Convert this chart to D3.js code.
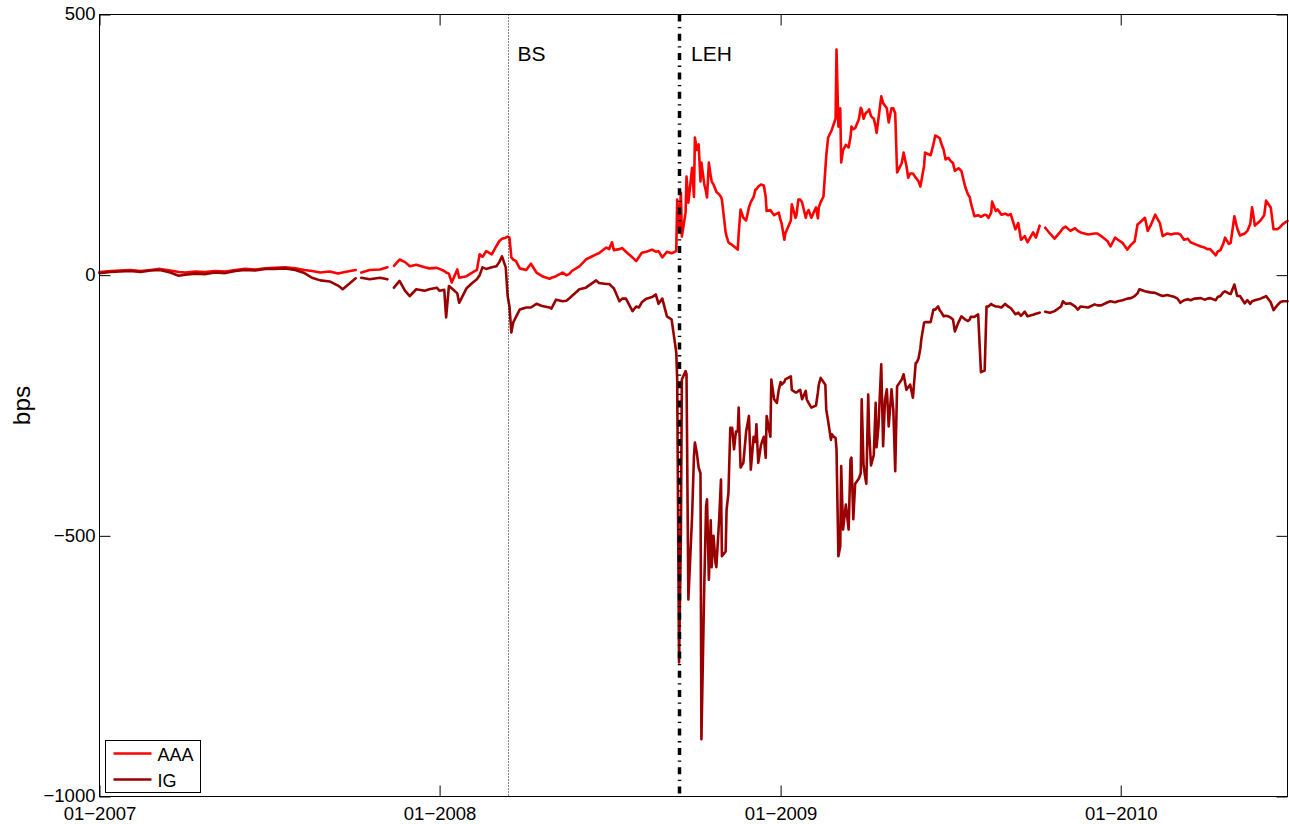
<!DOCTYPE html>
<html><head><meta charset="utf-8">
<script src="https://cdn.jsdelivr.net/npm/d3@7"></script>
<style>
body{margin:0;background:#fff}
svg{display:block}
text{font-family:"Liberation Sans",Arial,Helvetica,sans-serif;fill:#000}
</style>
</head><body>
<svg id="chart" width="1289" height="824"></svg>
<script>
// ---------------- data ----------------
const startDate = "2007-01-01";
const endDate = "2010-06-29";
// days since startDate for each observation (null values mark gaps in the data)
const dayOffsets = [0,12,22,33,44,55,65,76,85,92,103,113,124,135,146,156,167,178,188,199,210,220,228,237,247,256,261,269,275,277,281,290,301,309,312,316,322,328,333,340,349,354,362,365,370,372,375,378,384,386,394,400,405,408,411,415,421,426,429,432,436,438,440,442,444,447,451,458,463,469,475,483,485,490,497,501,504,507,515,522,533,536,544,547,550,552,558,561,565,572,576,579,582,587,593,597,600,604,609,614,619,620,622,624,625,629,630,632,636,638,639,641,643,645,646,649,651,652,654,656,657,659,661,662,665,667,668,672,673,675,677,679,681,683,685,686,688,691,694,697,699,702,704,705,707,710,713,715,716,720,721,724,727,729,731,732,735,736,742,743,747,748,750,752,754,758,759,761,764,769,771,772,774,777,779,780,782,785,786,788,790,791,793,795,796,798,801,804,806,807,809,811,815,817,818,820,822,823,825,826,828,831,833,834,836,839,841,843,845,847,850,852,854,856,861,863,866,868,870,873,876,877,879,881,882,885,886,892,895,897,900,902,903,906,908,911,914,916,918,922,925,929,932,934,935,939,943,946,950,952,954,957,958,962,964,968,972,975,978,983,986,989,993,996,1002,1005,1009,1011,1015,1020,1025,1032,1034,1037,1042,1047,1050,1053,1061,1068,1071,1075,1082,1085,1090,1093,1098,1103,1107,1111,1114,1116,1122,1125,1128,1133,1138,1141,1146,1150,1154,1157,1160,1164,1168,1171,1175,1182,1186,1189,1192,1198,1200,1203,1206,1208,1212,1214,1218,1221,1224,1229,1232,1235,1237,1240,1246,1250,1252,1257,1260,1264,1267,1270,1275];
const aaa = [6,8,9,10,8,10,12,9,6,5,7,6,8,7,10,12,11,13,14,15,13,10,8,5,7,3,5,8,10,null,5,10,11,15,null,18,30,25,17,20,15,13,14,12,8,5,3,-14,11,-5,-2,5,10,40,35,46,40,56,65,70,72,74,72,34,30,27,13,10,22,5,-2,-7,-5,-2,5,0,2,8,17,30,40,42,53,50,63,48,50,52,45,34,27,35,43,45,49,45,46,34,45,42,46,145,93,158,74,120,189,139,206,150,264,240,251,180,216,175,160,149,216,190,180,174,165,160,155,150,145,82,75,63,60,58,55,52,49,80,126,110,105,130,140,150,164,165,170,174,172,150,123,125,122,115,118,120,105,100,68,80,105,136,110,115,145,145,140,110,118,125,110,130,109,130,140,151,203,230,264,275,279,290,300,433,285,320,216,240,250,245,265,285,280,282,299,321,318,300,310,312,315,318,305,300,285,273,300,343,330,325,320,293,320,320,310,197,215,235,210,187,195,195,187,185,180,170,180,210,235,230,251,268,265,262,255,240,222,225,218,215,200,205,200,170,155,150,140,113,115,112,116,115,110,120,141,123,126,116,118,115,117,88,100,68,75,63,82,72,95,null,91,80,70,85,90,93,85,90,85,82,78,80,80,75,65,55,72,68,62,49,58,65,97,100,110,85,95,116,100,75,80,78,80,80,78,68,70,63,60,55,53,50,50,38,45,48,60,72,60,62,113,90,76,80,85,98,130,95,105,115,143,130,88,88,92,98,104];
const ig = [4,6,7,8,6,9,10,5,-1,1,3,2,5,4,8,10,9,12,12,13,10,4,-5,-10,-12,-20,-27,-15,-6,null,-5,-8,-5,-8,null,-24,-11,-30,-40,-27,-30,-27,-24,-30,-28,-81,-21,-25,-35,-53,-25,-15,-8,0,15,12,15,17,25,36,15,-40,-60,-110,-91,-80,-66,-62,-62,-55,-59,-62,-64,-47,-50,-49,-45,-40,-27,-24,-10,-15,-17,-17,-22,-25,-50,-45,-45,-69,-60,-62,-52,-45,-42,-37,-55,-45,-79,-85,-148,-200,-743,-494,-200,-184,-190,-622,-462,-347,-321,-340,-369,-380,-890,-600,-443,-430,-584,-470,-560,-500,-550,-560,-470,-392,-539,-530,-450,-418,-293,-293,-334,-300,-300,-254,-369,-360,-300,-270,-373,-310,-320,-286,-360,-325,-310,-350,-270,-310,-200,-238,-245,-220,-205,-210,-205,-200,-194,-220,-225,-225,-222,-220,-238,-222,-238,-245,-254,-250,-225,-210,-197,-205,-210,-258,-280,-316,-305,-310,-312,-334,-539,-520,-366,-488,-440,-488,-354,-350,-468,-400,-390,-380,-238,-365,-390,-400,-229,-300,-365,-345,-245,-330,-290,-171,-328,-240,-219,-290,-219,-260,-376,-213,-200,-190,-220,-215,-210,-235,-168,-168,-160,-140,-123,-91,-90,-90,-66,-66,-60,-68,-70,-79,-78,-79,-82,-85,-108,-90,-79,-85,-88,-85,-80,-80,-75,-186,-183,-60,-60,-55,-57,-60,-60,-62,-55,-60,-63,-75,-72,-78,-70,-79,-76,-74,-72,null,-70,-72,-69,-60,-50,-55,-54,-60,-66,-60,-62,-56,-58,-58,-52,-50,-52,-50,-48,-45,-44,-40,-35,-27,-31,-32,-33,-34,-38,-40,-38,-40,-42,-45,-53,-48,-46,-48,-45,-44,-47,-45,-44,-48,-42,-40,-33,-31,-35,-36,-18,-40,-40,-54,-48,-55,-50,-48,-45,-42,-40,-52,-67,-58,-52,-50,-50];
const seriesNames = ["AAA", "IG"];
const seriesColors = ["#ff0000", "#990000"];
const eventLabels = ["BS", "LEH"];
const eventDates = ["2008-03-14", "2008-09-14"];
const yTickValues = [-1000, -500, 0, 500];
const xTickDates = ["2007-01-01", "2008-01-01", "2009-01-01", "2010-01-01"];
const yAxisLabel = "bps";

// ---------------- chart ----------------
const svg = d3.select("#chart");
const plot = {left: 99.5, right: 1287.5, top: 14.5, bottom: 796.5};
const parse = d3.utcParse("%Y-%m-%d");
const t0 = parse(startDate);

const x = d3.scaleUtc().domain([t0, parse(endDate)]).range([plot.left, plot.right]);
const y = d3.scaleLinear().domain([-1000, 500]).range([plot.bottom, plot.top]);

const series = [aaa, ig].map((vals, i) => ({
  name: seriesNames[i],
  color: seriesColors[i],
  pts: dayOffsets.map((d, j) => ({date: d3.utcDay.offset(t0, d), v: vals[j]}))
}));

const minus = s => String(s).replace(/-/g, "\u2212");
const tickLen = 11;
const fs = 18.5;

// axes
const xDates = xTickDates.map(parse);
const gB = svg.append("g").attr("transform", `translate(0,${plot.bottom})`)
  .call(d3.axisBottom(x).tickValues(xDates).tickSizeInner(-tickLen).tickSizeOuter(0).tickPadding(10)
    .tickFormat(d => minus(d3.utcFormat("%m-%Y")(d))));
const gT = svg.append("g").attr("transform", `translate(0,${plot.top})`)
  .call(d3.axisTop(x).tickValues(xDates).tickSizeInner(-tickLen).tickSizeOuter(0).tickFormat(""));
const gL = svg.append("g").attr("transform", `translate(${plot.left},0)`)
  .call(d3.axisLeft(y).tickValues(yTickValues).tickSizeInner(-tickLen).tickSizeOuter(0).tickPadding(4)
    .tickFormat(d => minus(d)));
const gR = svg.append("g").attr("transform", `translate(${plot.right},0)`)
  .call(d3.axisRight(y).tickValues(yTickValues).tickSizeInner(-tickLen).tickSizeOuter(0).tickFormat(""));
[gB, gT, gL, gR].forEach(g => {
  g.attr("font-family", null).attr("font-size", fs);
  g.select(".domain").remove();
  g.selectAll(".tick line").attr("stroke", "#000").attr("stroke-width", 1);
  g.selectAll(".tick text").attr("fill", "#000");
});
gL.selectAll(".tick text").attr("dy", "0.28em");

// y label
svg.append("text")
  .attr("transform", `translate(30,${(plot.top + plot.bottom) / 2}) rotate(-90)`)
  .attr("text-anchor", "middle").attr("font-size", 24.5).text(yAxisLabel);

// series lines
const line = d3.line().defined(d => d.v != null).x(d => x(d.date)).y(d => y(d.v));
svg.append("g").selectAll("path").data(series).join("path")
  .attr("d", s => line(s.pts))
  .attr("fill", "none").attr("stroke", s => s.color).attr("stroke-width", 2.6)
  .attr("stroke-linejoin", "round").attr("stroke-linecap", "round");

// event lines
const ev = eventLabels.map((l, i) => ({label: l, date: parse(eventDates[i]), i}));
const evStyle = [
  {w: 1, dash: "1,2", color: "#000"},
  {w: 3.5, dash: "7,5.5,1.3,5.5", color: "#000"}
];
svg.append("g").selectAll("line").data(ev).join("line")
  .attr("x1", d => Math.round(x(d.date)) + 0.5).attr("x2", d => Math.round(x(d.date)) + 0.5)
  .attr("y1", plot.top).attr("y2", plot.bottom)
  .attr("stroke", d => evStyle[d.i].color).attr("stroke-width", d => evStyle[d.i].w)
  .attr("stroke-dasharray", d => evStyle[d.i].dash);
svg.append("g").selectAll("text").data(ev).join("text")
  .attr("x", d => x(d.date) + (d.i === 0 ? 10 : 12)).attr("y", 61)
  .attr("font-size", 21).text(d => d.label);

// box
svg.append("rect").attr("x", plot.left).attr("y", plot.top)
  .attr("width", plot.right - plot.left).attr("height", plot.bottom - plot.top)
  .attr("fill", "none").attr("stroke", "#000").attr("stroke-width", 1);

// legend
const lg = svg.append("g").attr("transform", "translate(105.5,740.5)");
lg.append("rect").attr("width", 95).attr("height", 52).attr("fill", "#fff").attr("stroke", "#000").attr("stroke-width", 1);
const li = lg.selectAll("g").data(series).join("g").attr("transform", (d, i) => `translate(0,${13 + i * 26})`);
li.append("line").attr("x1", 8).attr("x2", 46).attr("stroke", d => d.color).attr("stroke-width", 2.6);
li.append("text").attr("x", 52).attr("y", 7.5).attr("font-size", 18).text(d => d.name);
</script>
</body></html>
